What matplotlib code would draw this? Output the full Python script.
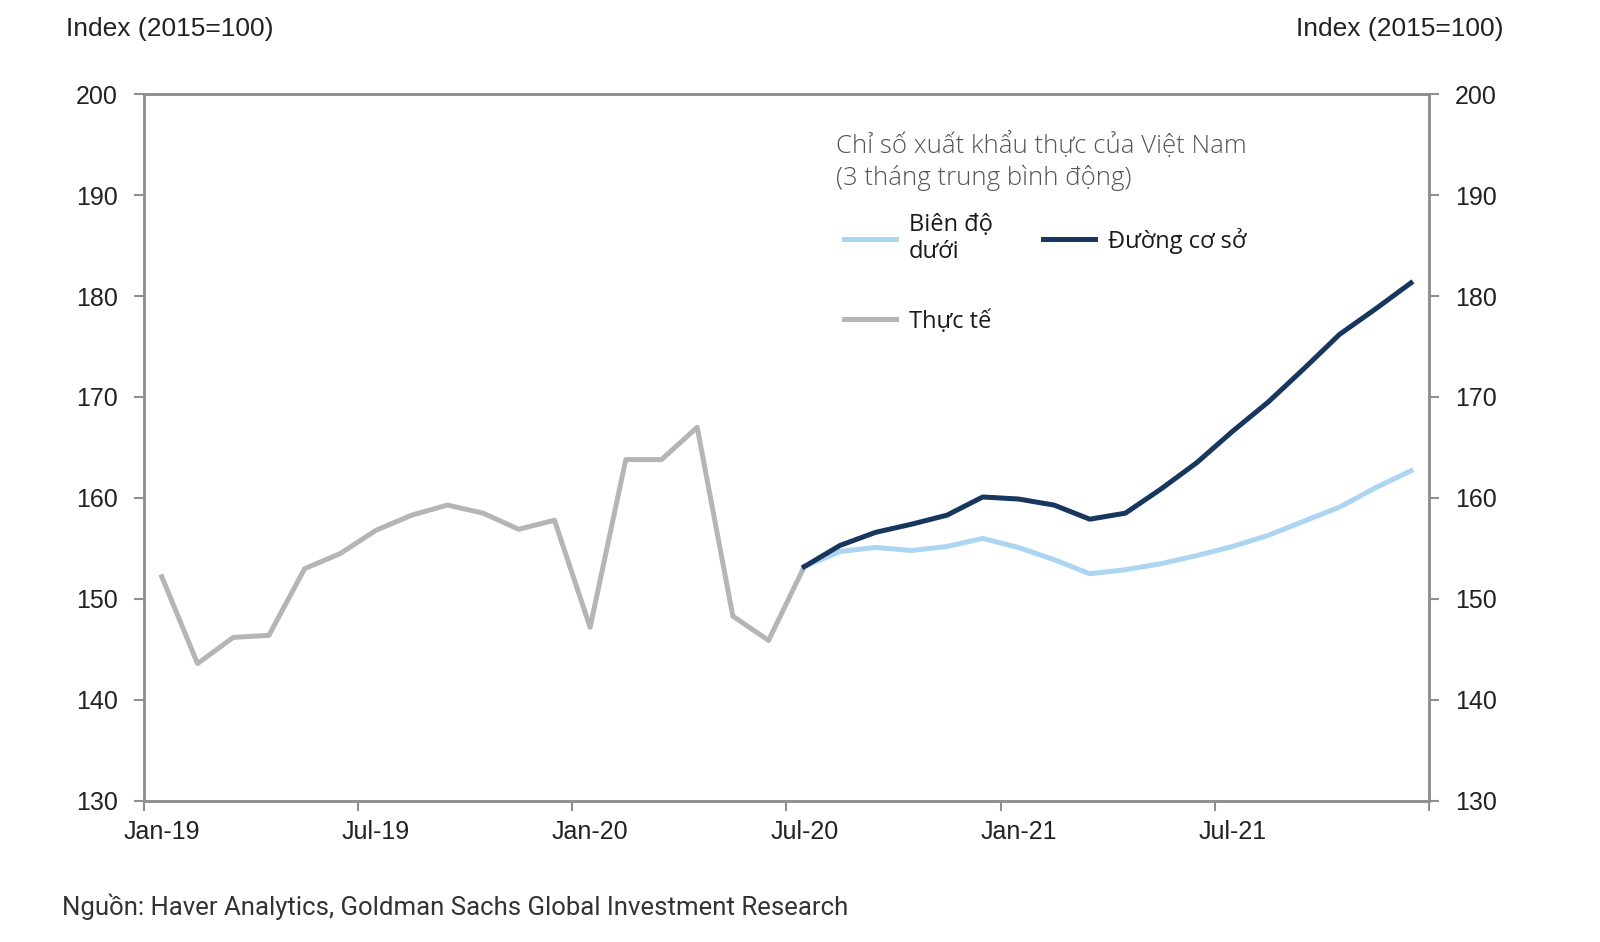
import numpy as np
import pandas as pd
import matplotlib
matplotlib.use("Agg")
import matplotlib.pyplot as plt

# monthly categories, Jan-19 .. Dec-21
months = pd.date_range("2019-01-01", periods=36, freq="MS")
month_labels = [m.strftime("%b-%y") for m in months]

# actual index, Jan-19 .. Jul-20
actual = [152.2, 143.6, 146.2, 146.4, 153.0, 154.5, 156.8, 158.3, 159.3, 158.5,
          156.9, 157.8, 147.2, 163.8, 163.8, 167.0, 148.3, 145.9, 153.2]
# projections, Jul-20 .. Dec-21
lower = [153.2, 154.7, 155.1, 154.8, 155.2, 156.0, 155.1, 153.9, 152.5, 152.9,
         153.5, 154.3, 155.2, 156.3, 157.7, 159.1, 161.0, 162.7]
baseline = [153.2, 155.3, 156.6, 157.4, 158.3, 160.1, 159.9, 159.3, 157.9, 158.5,
            160.9, 163.5, 166.6, 169.5, 172.8, 176.2, 178.7, 181.3]

label_lower = "Biên độ\ndưới"
label_base = "Đường cơ sở"
label_actual = "Thực tế"
legend_title = "Chỉ số xuất khẩu thực của Việt Nam\n(3 tháng trung bình động)"
source = "Nguồn: Haver Analytics, Goldman Sachs Global Investment Research"

GRAY = "#b5b5b5"
LIGHT = "#acd5f1"
NAVY = "#17375e"
AXC = "#8f8f8f"
TXT = "#222222"
LEGFONT = ["Open Sans", "DejaVu Sans"]

plt.rcParams["font.family"] = ["Liberation Sans", "DejaVu Sans"]

fig = plt.figure(figsize=(16, 9.42), dpi=100)
ax = fig.add_axes([0.09, 0.1497, 0.803, 0.7505])

x = np.arange(len(months))
start = len(actual) - 1
l_act, = ax.plot(x[:len(actual)], actual, color=GRAY, lw=3.6)
l_low, = ax.plot(x[start:start + len(lower)], lower, color=LIGHT, lw=3.6)
l_base, = ax.plot(x[start:start + len(baseline)], baseline, color=NAVY, lw=3.6)

ax.set_xlim(-0.5, len(months) - 0.5)
ax.set_ylim(130, 200)
yt = np.arange(130, 201, 10)
ax.set_yticks(yt)

# ticks between categories every 6 months, labels centred on the month
ax.set_xticks(np.arange(-0.5, len(months), 6))
ax.set_xticklabels([])
ax.set_xticks(x[::6], minor=True)
ax.set_xticklabels(month_labels[::6], minor=True)
ax.tick_params(axis="x", which="minor", length=0, pad=14, labelsize=18, labelcolor=TXT)
ax.tick_params(axis="x", which="major", length=7, width=1.5, color=AXC, direction="out")
ax.tick_params(axis="y", length=7, width=1.5, color=AXC, pad=12, labelsize=18,
               labelcolor=TXT)

for s in ax.spines.values():
    s.set_color(AXC)
    s.set_linewidth(1.8)

ax2 = ax.twinx()
ax2.set_ylim(130, 200)
ax2.set_yticks(yt)
ax2.tick_params(axis="y", length=7, width=1.5, color=AXC, pad=12, labelsize=18,
                labelcolor=TXT)
for s in ax2.spines.values():
    s.set_color(AXC)
    s.set_linewidth(1.8)

fig.text(0.0415, 0.969, "Index (2015=100)", fontsize=19, color=TXT, va="center")
fig.text(0.9395, 0.969, "Index (2015=100)", fontsize=19, color=TXT, va="center",
         ha="right")

# legend title drawn as its own text, entries below it
fig.text(0.5225, 0.829, legend_title, fontsize=18.5, color="#555555", va="center",
         family=LEGFONT, fontweight="light", linespacing=1.3)
leg = ax.legend([l_low, l_act, l_base], [label_lower, label_actual, label_base],
                ncol=2, frameon=False, loc="upper left", bbox_to_anchor=(0.528, 0.862),
                prop={"family": LEGFONT, "size": 17},
                handlelength=2.2, handletextpad=0.55, columnspacing=2.15,
                labelspacing=1.92)
for t in leg.get_texts():
    t.set_color("#1a1a1a")

fig.text(0.039, 0.037, source, fontsize=18.5, color="#333333", va="center",
         family=["Roboto", "DejaVu Sans"])

fig.savefig("out.png", dpi=100, facecolor="white")
